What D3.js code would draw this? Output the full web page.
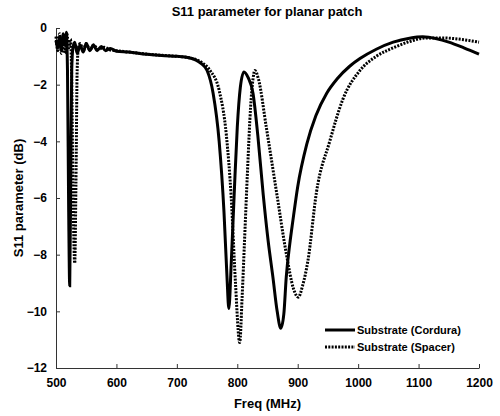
<!DOCTYPE html>
<html>
<head>
  <meta charset="UTF-8">
  <title>S11 parameter for planar patch</title>
  <script src="https://d3js.org/d3.v7.min.js"></script>
  <style>
    body { margin: 0; padding: 0; background: #fff; }
    svg { font-family: "Liberation Sans", Arial, sans-serif; font-weight: bold; }
    .axis path, .axis line { stroke: #333; }
    .axis text { font-size: 12px; font-weight: bold; fill: #000; }
    .line { fill: none; stroke: #000; stroke-width: 3; }
  </style>
</head>
<body>
  <div id="chart"></div>
  <script>
    // Substrate (Cordura) - solid
    const corduraFreq = [500, 503, 506, 509, 512, 515, 517, 519, 521, 522.7, 524.5, 526, 528, 531, 535, 540, 545, 550, 556, 562, 568, 575, 582, 590, 600, 620, 650, 680, 700, 720, 740, 750, 760, 770, 778, 783, 786, 790, 795, 800, 805, 811, 818, 826, 834, 843, 851, 859, 866, 872, 877, 881, 887, 892, 900, 915, 930, 948, 965, 986, 1003, 1030, 1058, 1085, 1107, 1130, 1150, 1175, 1200];
    const corduraS11 = [-0.45, -0.7, -0.3, -0.8, -0.2, -0.6, -0.15, -1.5, -6.5, -9.1, -5.0, -1.5, -0.7, -0.5, -0.9, -0.6, -0.85, -0.55, -0.8, -0.6, -0.8, -0.65, -0.8, -0.72, -0.82, -0.85, -0.93, -0.98, -1.0, -1.05, -1.25, -1.5, -2.3, -4.0, -6.5, -8.8, -9.9, -8.3, -5.8, -3.5, -2.1, -1.55, -1.75, -2.3, -3.8, -5.9, -7.5, -8.8, -10.0, -10.6, -10.1, -8.8, -7.6, -6.8, -5.6, -4.1, -3.1, -2.3, -1.8, -1.35, -1.08, -0.75, -0.5, -0.36, -0.31, -0.38, -0.5, -0.7, -0.92];

    // Substrate (Spacer) - dotted
    const spacerFreq = [500, 503, 506, 509, 512, 515, 518, 521, 524, 526, 528, 531, 533, 535, 537, 540, 545, 550, 556, 562, 570, 580, 590, 600, 620, 650, 680, 700, 720, 740, 755, 770, 782, 790, 797, 804, 808, 812, 817, 822, 826, 829, 835, 848, 865, 881, 893, 901, 908, 917, 931, 953, 975, 1003, 1030, 1058, 1085, 1113, 1140, 1170, 1200];
    const spacerS11 = [-0.3, -0.8, -0.2, -0.9, -0.3, -0.9, -0.2, -0.7, -0.4, -1.8, -5.5, -8.3, -5.5, -1.5, -0.7, -0.55, -0.8, -0.55, -0.78, -0.6, -0.75, -0.68, -0.78, -0.8, -0.85, -0.92, -0.97, -1.0, -1.05, -1.2, -1.5, -2.2, -3.8, -6.0, -9.0, -11.1, -9.5, -7.5, -5.0, -2.8, -1.8, -1.5, -1.8, -3.5, -5.8, -7.95, -9.2, -9.5, -9.1, -8.2, -5.8, -4.0, -2.5, -1.5, -1.0, -0.7, -0.48, -0.35, -0.35, -0.4, -0.5];

    const xTicks = [500, 600, 700, 800, 900, 1000, 1100, 1200];
    const yTicks = [0, -2, -4, -6, -8, -10, -12];

    const series = [
      { name: "Substrate (Cordura)", freq: corduraFreq, s11: corduraS11, dash: null },
      { name: "Substrate (Spacer)", freq: spacerFreq, s11: spacerS11, dash: "2,1.3" }
    ];

    const width = 500, height = 416;
    const margin = { top: 28, right: 21, bottom: 48, left: 56 };
    const w = width - margin.left - margin.right;
    const h = height - margin.top - margin.bottom;

    const svg = d3.select("#chart").append("svg")
      .attr("width", width)
      .attr("height", height);

    const g = svg.append("g")
      .attr("transform", `translate(${margin.left},${margin.top})`);

    const x = d3.scaleLinear().domain([500, 1200]).range([0, w]);
    const y = d3.scaleLinear().domain([-12, 0]).range([h, 0]);

    g.append("g")
      .attr("class", "axis")
      .attr("transform", `translate(0,${h})`)
      .call(d3.axisBottom(x).tickValues(xTicks).tickFormat(d3.format("d"))
        .tickSizeInner(-4).tickSizeOuter(0).tickPadding(8))
      .call(a => a.selectAll("text").attr("dy", "0.9em"));

    g.append("g")
      .attr("class", "axis")
      .call(d3.axisLeft(y).tickValues(yTicks).tickFormat(d3.format("d"))
        .tickSizeInner(-4).tickSizeOuter(0).tickPadding(9));

    const line = d3.line()
      .curve(d3.curveMonotoneX)
      .x(d => x(d[0]))
      .y(d => y(d[1]));

    series.forEach(s => {
      const pts = s.freq.map((f, i) => [f, s.s11[i]]);
      g.append("path")
        .datum(pts)
        .attr("class", "line")
        .attr("stroke-dasharray", s.dash)
        .attr("d", line);
    });

    // legend
    const legend = svg.append("g").attr("transform", "translate(325,330)");
    series.forEach((s, i) => {
      const row = legend.append("g").attr("transform", `translate(0,${i * 17})`);
      row.append("line")
        .attr("x1", 0).attr("x2", 30).attr("y1", 0).attr("y2", 0)
        .attr("stroke", "#000").attr("stroke-width", 3)
        .attr("stroke-dasharray", s.dash);
      row.append("text")
        .attr("x", 32).attr("y", 4)
        .attr("font-size", 11)
        .text(s.name);
    });

    svg.append("text")
      .attr("x", 267).attr("y", 16)
      .attr("text-anchor", "middle")
      .attr("font-size", 13)
      .text("S11 parameter for planar patch");

    svg.append("text")
      .attr("x", margin.left + w / 2).attr("y", 408)
      .attr("text-anchor", "middle")
      .attr("font-size", 13)
      .text("Freq (MHz)");

    svg.append("text")
      .attr("transform", `translate(23,${margin.top + h / 2}) rotate(-90)`)
      .attr("text-anchor", "middle")
      .attr("font-size", 13)
      .text("S11 parameter (dB)");
  </script>
</body>
</html>
